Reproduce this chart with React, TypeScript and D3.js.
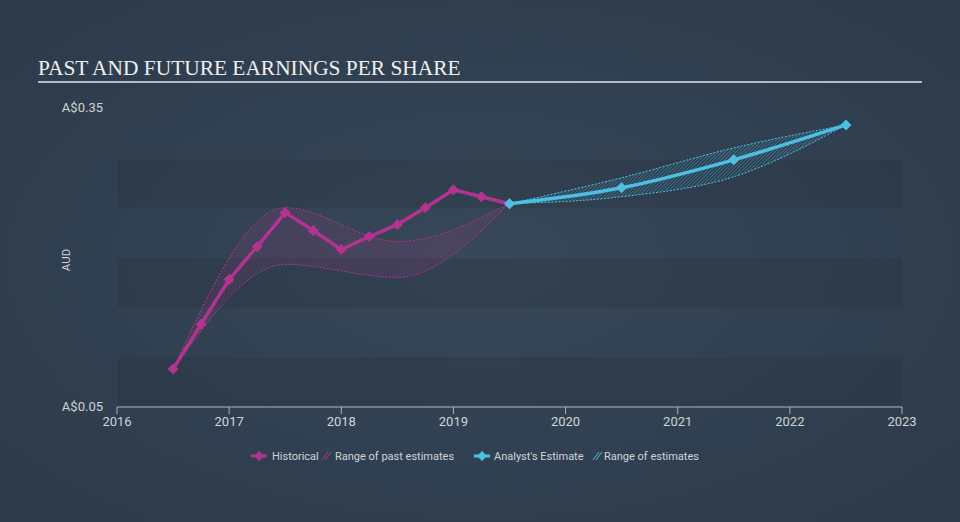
import React from "react";
import * as d3 from "d3";

const histX = [2016.5, 2016.75, 2017.0, 2017.25, 2017.5, 2017.75, 2018.0, 2018.25, 2018.5, 2018.75, 2019.0, 2019.25, 2019.5];
const histY = [0.087, 0.132, 0.177, 0.210, 0.244, 0.226, 0.207, 0.220, 0.232, 0.249, 0.267, 0.260, 0.253];

const pastRangeX = [2016.5, 2017.5, 2018.5, 2019.5];
const pastHigh = [0.087, 0.249, 0.215, 0.253];
const pastLow = [0.087, 0.192, 0.179, 0.253];

const estX = [2019.5, 2020.5, 2021.5, 2022.5];
const estY = [0.253, 0.269, 0.297, 0.332];
const estHigh = [0.253, 0.279, 0.309, 0.332];
const estLow = [0.253, 0.260, 0.280, 0.332];

const xTicks = [2016, 2017, 2018, 2019, 2020, 2021, 2022, 2023];
const yTickLabels = ["A$0.35", "A$0.05"];
const yTickValues = [0.35, 0.05];
const bandRanges = [[0.297, 0.249], [0.198, 0.149], [0.099, 0.051]];

const MAGENTA = "#b3348f";
const CYAN = "#4cbfe3";

export default function App() {
  const W = 960, H = 522;
  const x = d3.scaleLinear().domain([2016, 2023]).range([117, 902]);
  const y = d3.scaleLinear().domain([0.05, 0.35]).range([406, 107]);

  const line = d3.line<[number, number]>().x(d => x(d[0])).y(d => y(d[1]));
  const smooth = d3.line<[number, number]>().x(d => x(d[0])).y(d => y(d[1])).curve(d3.curveMonotoneX);
  const area = d3.area<[number, number, number]>()
    .x(d => x(d[0])).y0(d => y(d[1])).y1(d => y(d[2])).curve(d3.curveMonotoneX);

  const histPts: [number, number][] = histX.map((v, i) => [v, histY[i]]);
  const estPts: [number, number][] = estX.map((v, i) => [v, estY[i]]);
  const pastArea: [number, number, number][] = pastRangeX.map((v, i) => [v, pastLow[i], pastHigh[i]]);
  const estArea: [number, number, number][] = estX.map((v, i) => [v, estLow[i], estHigh[i]]);

  const diamond = (cx: number, cy: number, r: number) =>
    `M${cx},${cy - r}L${cx + r},${cy}L${cx},${cy + r}L${cx - r},${cy}Z`;

  return (
    <svg width={W} height={H} style={{ position: "absolute", left: 0, top: 0, display: "block" }}>
      <defs>
        <radialGradient id="bg" cx="50%" cy="50%" r="70%">
          <stop offset="0%" stopColor="#384858" />
          <stop offset="100%" stopColor="#2c3a4a" />
        </radialGradient>
        <pattern id="hatchM" width="2.5" height="2.5" patternUnits="userSpaceOnUse" patternTransform="rotate(45)">
          <line x1="0" y1="0" x2="0" y2="2.5" stroke={MAGENTA} strokeWidth="0.9" />
        </pattern>
        <pattern id="hatchC" width="2.5" height="2.5" patternUnits="userSpaceOnUse" patternTransform="rotate(45)">
          <line x1="0" y1="0" x2="0" y2="2.5" stroke={CYAN} strokeWidth="0.9" />
        </pattern>
      </defs>
      <rect x={0} y={0} width={W} height={H} fill="url(#bg)" />

      {bandRanges.map((b, i) => (
        <rect key={i} x={x(2016)} y={y(b[0])} width={x(2023) - x(2016)} height={y(b[1]) - y(b[0])}
          fill="#1e2a36" opacity={0.2} />
      ))}

      <text x={38} y={75} fontFamily="'Liberation Serif', 'DejaVu Serif', serif" fontSize={21.4} fill="#f0f0f0">
        PAST AND FUTURE EARNINGS PER SHARE
      </text>
      <line x1={38} x2={922} y1={82} y2={82} stroke="#b4bac2" strokeWidth={2} />

      {yTickValues.map((v, i) => (
        <text key={i} x={103} y={y(v) + 4.5} textAnchor="end" fontFamily="Roboto, 'Liberation Sans', sans-serif"
          fontSize={13} fill="#d0d4d9">{yTickLabels[i]}</text>
      ))}
      <text transform={`translate(70,${260}) rotate(-90)`} textAnchor="middle"
        fontFamily="Roboto, 'Liberation Sans', sans-serif" fontSize={11.5} fill="#d0d4d9">AUD</text>

      <line x1={x(2016)} x2={x(2023)} y1={407} y2={407} stroke="#aab4c0" strokeWidth={1} />
      {xTicks.map(t => (
        <g key={t}>
          <line x1={x(t)} x2={x(t)} y1={407} y2={414} stroke="#aab4c0" strokeWidth={1} />
          <text x={x(t)} y={426} textAnchor="middle" fontFamily="Roboto, 'Liberation Sans', sans-serif"
            fontSize={13} fill="#d0d4d9">{t}</text>
        </g>
      ))}

      {/* past range */}
      <path d={area(pastArea) ?? ""} fill="url(#hatchM)" opacity={0.8} />
      <path d={smooth(pastArea.map(d => [d[0], d[2]] as [number, number])) ?? ""} fill="none" stroke={MAGENTA} strokeWidth={1} strokeDasharray="2,1.5" />
      <path d={smooth(pastArea.map(d => [d[0], d[1]] as [number, number])) ?? ""} fill="none" stroke={MAGENTA} strokeWidth={1} strokeDasharray="2,1.5" />

      {/* estimate range */}
      <path d={area(estArea) ?? ""} fill="url(#hatchC)" opacity={0.8} />
      <path d={smooth(estArea.map(d => [d[0], d[2]] as [number, number])) ?? ""} fill="none" stroke={CYAN} strokeWidth={1} strokeDasharray="2,1.5" />
      <path d={smooth(estArea.map(d => [d[0], d[1]] as [number, number])) ?? ""} fill="none" stroke={CYAN} strokeWidth={1} strokeDasharray="2,1.5" />

      <path d={line(histPts) ?? ""} fill="none" stroke={MAGENTA} strokeWidth={3.5} strokeLinejoin="round" />
      {histPts.map((p, i) => (
        <path key={i} d={diamond(x(p[0]), y(p[1]), 5.5)} fill={MAGENTA} />
      ))}

      <path d={smooth(estPts) ?? ""} fill="none" stroke={CYAN} strokeWidth={3.5} strokeLinejoin="round" />
      {estPts.map((p, i) => (
        <path key={i} d={diamond(x(p[0]), y(p[1]), 5.5)} fill={CYAN} />
      ))}

      {/* legend */}
      <g fontFamily="Roboto, 'Liberation Sans', sans-serif" fontSize={11} fill="#d0d4d9">
        <line x1={251} x2={267} y1={456} y2={456} stroke={MAGENTA} strokeWidth={3} />
        <path d={diamond(259, 456, 5)} fill={MAGENTA} />
        <text x={272} y={460}>Historical</text>
        <g stroke={MAGENTA} strokeWidth={1}>
          <line x1={322} x2={328} y1={460} y2={452} />
          <line x1={325} x2={331} y1={460} y2={452} />
        </g>
        <text x={335} y={460}>Range of past estimates</text>
        <line x1={474} x2={490} y1={456} y2={456} stroke={CYAN} strokeWidth={3} />
        <path d={diamond(482, 456, 5)} fill={CYAN} />
        <text x={494} y={460}>Analyst's Estimate</text>
        <g stroke={CYAN} strokeWidth={1}>
          <line x1={593} x2={599} y1={460} y2={452} />
          <line x1={596} x2={602} y1={460} y2={452} />
        </g>
        <text x={604} y={460}>Range of estimates</text>
      </g>
    </svg>
  );
}
